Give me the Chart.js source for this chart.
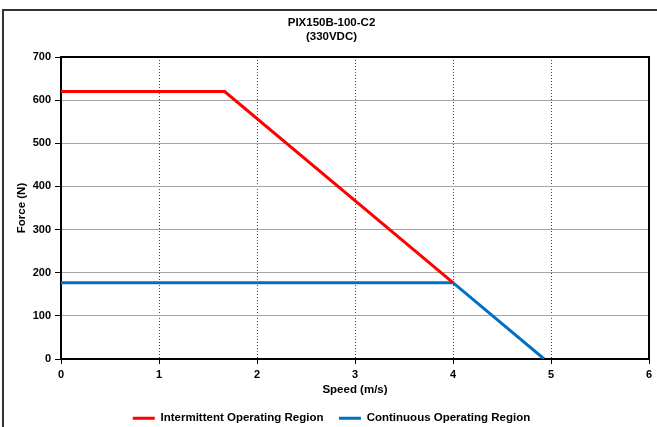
<!DOCTYPE html>
<html>
<head>
<meta charset="utf-8">
<script src="https://cdn.jsdelivr.net/npm/chart.js@4.4.0/dist/chart.umd.min.js"></script>
<style>
  html, body { margin: 0; padding: 0; background: #fff; }
  #frame { position: absolute; left: 2px; top: 9px; width: 700px; height: 500px;
           border-left: 2px solid #333; border-top: 2px solid #333; }
  #wrap { position: absolute; left: 0; top: 0; width: 657px; height: 427px; }
</style>
</head>
<body>
<div id="frame"></div>
<div id="wrap"><canvas id="chart"></canvas></div>
<script>
// Force vs speed curves
const speedIntermittent = [0, 1.67, 4.0];
const forceIntermittent = [620, 620, 177];
const speedContinuous = [0, 4.0, 4.93];
const forceContinuous = [177, 177, 0];
const speedTicks = [0, 1, 2, 3, 4, 5, 6];
const forceTicks = [0, 100, 200, 300, 400, 500, 600, 700];

const FONT = "Arial, 'Liberation Sans', sans-serif";
const toPoints = (xs, ys) => xs.map((x, i) => ({ x: x, y: ys[i] }));

// top and right edges of the plot box
const plotFrame = {
    id: "plotFrame",
    beforeDatasetsDraw(chart) {
        const { ctx, chartArea: a } = chart;
        ctx.save();
        ctx.strokeStyle = "#000";
        ctx.lineWidth = 2;
        ctx.beginPath();
        ctx.moveTo(a.left, a.top);
        ctx.lineTo(a.right, a.top);
        ctx.lineTo(a.right, a.bottom);
        ctx.stroke();
        ctx.restore();
    },
};

new Chart(document.getElementById("chart"), {
    type: "line",
    data: {
        datasets: [
            {
                label: "Intermittent Operating Region",
                data: toPoints(speedIntermittent, forceIntermittent),
                borderColor: "#ff0000",
                backgroundColor: "#ff0000",
                borderWidth: 3,
                pointRadius: 0,
                tension: 0,
            },
            {
                label: "Continuous Operating Region",
                data: toPoints(speedContinuous, forceContinuous),
                borderColor: "#0070c0",
                backgroundColor: "#0070c0",
                borderWidth: 3,
                pointRadius: 0,
                tension: 0,
            },
        ],
    },
    options: {
        responsive: true,
        maintainAspectRatio: false,
        animation: false,
        layout: { padding: { top: 12, left: 14, right: 8, bottom: 0 } },
        plugins: {
            title: {
                display: true,
                text: ["PIX150B-100-C2", "(330VDC)"],
                color: "#000",
                font: { family: FONT, size: 11.5, weight: "bold", lineHeight: 1.27 },
                padding: { top: 3.4, bottom: 12.4 },
            },
            legend: {
                position: "bottom",
                maxHeight: 30,
                labels: {
                    usePointStyle: true,
                    pointStyle: "line",
                    pointStyleWidth: 22,
                    padding: 15.5,
                    color: "#000",
                    font: { family: FONT, size: 11.5, weight: "bold" },
                },
            },
            tooltip: { enabled: false },
        },
        scales: {
            x: {
                type: "linear",
                min: 0,
                max: 6,
                afterBuildTicks: (s) => { s.ticks = speedTicks.map(v => ({ value: v })); },
                afterFit: (s) => { s.height = 38; },
                ticks: {
                    color: "#000",
                    padding: 4,
                    font: { family: FONT, size: 11, weight: "bold" },
                },
                grid: { color: "#444", lineWidth: 1, tickLength: 5, tickColor: "#000" },
                border: { display: true, color: "#000", width: 2, dash: [1, 2] },
                title: {
                    display: true,
                    text: "Speed (m/s)",
                    color: "#000",
                    font: { family: FONT, size: 11.5, weight: "bold", lineHeight: 1.2 },
                    padding: { top: 0, bottom: 0 },
                },
            },
            y: {
                min: 0,
                max: 700,
                afterBuildTicks: (s) => { s.ticks = forceTicks.map(v => ({ value: v })); },
                afterFit: (s) => { s.width = 47; },
                ticks: {
                    color: "#000",
                    padding: 4,
                    font: { family: FONT, size: 11, weight: "bold" },
                },
                grid: { color: "#a6a6a6", lineWidth: 1, tickLength: 6, tickColor: "#000" },
                border: { display: true, color: "#000", width: 2 },
                title: {
                    display: true,
                    text: "Force (N)",
                    color: "#000",
                    font: { family: FONT, size: 11.5, weight: "bold", lineHeight: 1.2 },
                    padding: { top: 1, bottom: 0 },
                },
            },
        },
    },
    plugins: [plotFrame],
});
</script>
</body>
</html>
